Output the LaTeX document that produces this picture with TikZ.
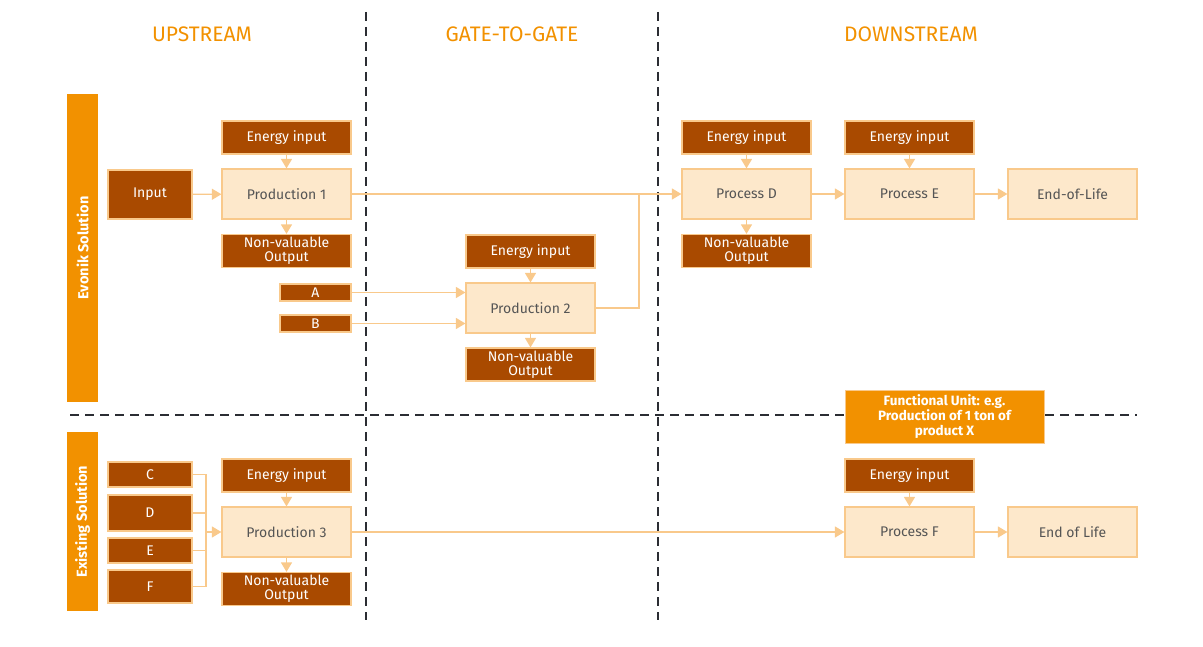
\documentclass[tikz,border=0pt]{standalone}
\usepackage{fontspec}
\setmainfont{Fira Sans}
\usetikzlibrary{positioning, arrows.meta}
\usepackage{xcolor}
\definecolor{xbrown}{HTML}{A94A00}
\definecolor{xpeach}{HTML}{F9C98B}
\definecolor{xcream}{HTML}{FDE8CB}
\definecolor{xorange}{HTML}{F29100}
\definecolor{xgray}{HTML}{555555}
\definecolor{xdash}{HTML}{2B2D33}

\tikzset{
	darkbox/.style={draw=xpeach, line width=1.2pt, fill=xbrown, text=white, minimum width=129pt, minimum height=33pt, inner sep=0pt, align=center, font=\fontsize{14}{14}\selectfont},
	lightbox/.style={draw=xpeach, line width=1.2pt, fill=xcream, text=xgray, minimum width=129pt, minimum height=50pt, inner sep=0pt, font=\fontsize{14}{16}\selectfont},
	srcbox/.style={darkbox, minimum width=84pt},
	sidebar/.style={fill=xorange, draw=none, text=white, rotate=90, inner sep=0pt, font=\bfseries\fontsize{14.5}{16}\selectfont},
	heading/.style={text=xorange, font=\fontsize{21}{24}\selectfont},
	flow/.style={draw=xpeach, line width=1.3pt, -{Triangle[length=9.5pt, width=11pt]}},
	line/.style={draw=xpeach, line width=1.3pt},
	border/.style={draw=xdash, line width=2.4pt, dash pattern=on 9pt off 6pt},
}

\begin{document}
\begin{tikzpicture}[x=1pt, y=-1pt]
		\useasboundingbox (0,0) rectangle (1203,647);

		% phase borders
		\draw[border] (366,12) -- (366,620);
		\draw[border] (658,12) -- (658,620);
		\draw[border] (70,415) -- (1137,415);

		\node[heading] (hup) at (202,34) {UPSTREAM};
		\node[heading] (hgate) at (512,34) {GATE-TO-GATE};
		\node[heading] (hdown) at (911,34) {DOWNSTREAM};

		\node[sidebar, minimum width=308pt, minimum height=31pt] (evonik) at (82.5,248) {Evonik Solution};
		\node[sidebar, minimum width=179pt, minimum height=31pt] (exist) at (82.5,521.5) {Existing Solution};

		% Evonik solution
		\node[srcbox, minimum height=49pt] (in) at (150,194.5) {Input};
		\node[darkbox] (ei1) at (286.5,137.5) {Energy input};
		\node[lightbox] (p1) at (286.5,194) {Production 1};
		\node[darkbox] (nv1) at (286.5,251) {Non-valuable\\Output};
		\node[darkbox, minimum width=71pt, minimum height=17pt] (a) at (315.5,292.5) {A};
		\node[darkbox, minimum width=71pt, minimum height=17pt] (b) at (315.5,323.5) {B};

		\node[darkbox] (ei2) at (530.5,251.5) {Energy input};
		\node[lightbox] (p2) at (530.5,308) {Production 2};
		\node[darkbox] (nv2) at (530.5,364.5) {Non-valuable\\Output};

		\node[darkbox] (eid) at (746.5,137.5) {Energy input};
		\node[lightbox] (pd) at (746.5,194) {Process D};
		\node[darkbox] (nvd) at (746.5,251) {Non-valuable\\Output};
		\node[darkbox] (eie) at (909.5,137.5) {Energy input};
		\node[lightbox] (pe) at (909.5,194) {Process E};
		\node[lightbox] (eol) at (1072.5,194) {End-of-Life};

		\node[fill=xorange, draw=xpeach, text=white, minimum width=199pt, minimum height=53pt, inner sep=0pt, align=center, font=\bfseries\fontsize{13.5}{15}\selectfont] (fu) at (944.5,416.5) {Functional Unit: e.g.\\Production of 1 ton of\\product X};

		% existing solution
		\node[srcbox, minimum height=25pt] (c) at (150,474.5) {C};
		\node[srcbox, minimum height=36pt] (d) at (150,513) {D};
		\node[srcbox, minimum height=25pt] (e) at (150,550.5) {E};
		\node[srcbox, minimum height=33pt] (f) at (150,586.5) {F};
		\node[darkbox] (ei3) at (286.5,475.5) {Energy input};
		\node[lightbox] (p3) at (286.5,532) {Production 3};
		\node[darkbox] (nv3) at (286.5,589) {Non-valuable\\Output};

		\node[darkbox] (eif) at (909.5,475.5) {Energy input};
		\node[lightbox] (pf) at (909.5,532) {Process F};
		\node[lightbox] (eolf) at (1072.5,532) {End of Life};

		\coordinate (join) at (639,194);
		\coordinate (merge) at (206,532);

		% flows
		\draw[flow] (in) -- (p1);
		\draw[flow] (ei1) -- (p1);
		\draw[flow] (p1) -- (nv1);
		\draw[flow] (p1) -- (pd);
		\draw[flow] (a.east) -- (p2.west |- a.east);
		\draw[flow] (b.east) -- (p2.west |- b.east);
		\draw[flow] (ei2) -- (p2);
		\draw[flow] (p2) -- (nv2);
		\draw[line] (p2.east) -| (join);
		\draw[flow] (eid) -- (pd);
		\draw[flow] (pd) -- (nvd);
		\draw[flow] (pd) -- (pe);
		\draw[flow] (eie) -- (pe);
		\draw[flow] (pe) -- (eol);

		\draw[line] (c.east) -| (merge |- f.east) -- (f.east);
		\draw[line] (d.east) -- (merge |- d.east);
		\draw[line] (e.east) -- (merge |- e.east);
		\draw[flow] (merge) -- (p3);
		\draw[flow] (ei3) -- (p3);
		\draw[flow] (p3) -- (nv3);
		\draw[flow] (p3) -- (pf);
		\draw[flow] (eif) -- (pf);
		\draw[flow] (pf) -- (eolf);
	\end{tikzpicture}
\end{document}
